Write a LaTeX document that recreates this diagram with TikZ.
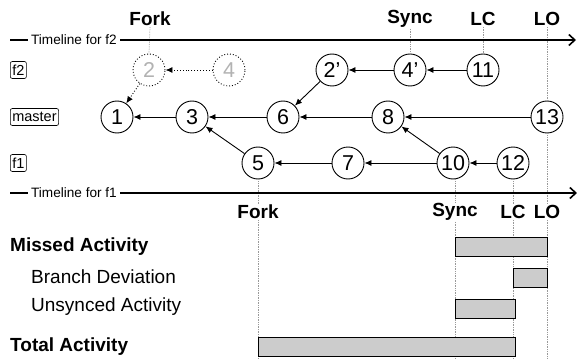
\documentclass[tikz,border=0pt]{standalone}
\usepackage{fontspec}
\setmainfont{Liberation Sans}
\usetikzlibrary{arrows.meta}
\begin{document}
\begin{tikzpicture}[x=1pt,y=-1pt,
  commit/.style={circle,draw,line width=0.9pt,minimum size=32pt,inner sep=0pt,font=\fontsize{21.5}{21.5}\selectfont},
  ghost/.style={commit,dotted,text=black!30},
  branch/.style={draw,rounded corners=2pt,inner xsep=2pt,inner ysep=0pt,minimum height=17pt,line width=0.6pt,font=\fontsize{14.5}{14.5}\selectfont},
  edge/.style={-{Latex[length=7pt,width=6pt]},line width=0.9pt},
  ghostedge/.style={edge,dotted},
  timeline/.style={-{Straight Barb[length=6pt,width=11pt,line width=1.6pt]},line width=1.8pt},
  tltext/.style={fill=white,inner xsep=3pt,inner ysep=1pt,font=\fontsize{13.6}{13.6}\selectfont},
  tmark/.style={font=\bfseries\fontsize{19}{19}\selectfont,inner sep=1pt},
  guide/.style={densely dotted,black!40,line width=0.7pt},
  bar/.style={draw,fill=black!20,line width=0.8pt},
  rowlabel/.style={anchor=west,inner sep=0pt,font=\fontsize{19}{19}\selectfont},
  rowbold/.style={rowlabel,font=\bfseries\fontsize{19}{19}\selectfont}
]
\useasboundingbox (0,0) rectangle (577,358);

% timelines
\coordinate (t2s) at (10,40); \coordinate (t2e) at (576,40);
\coordinate (t1s) at (10,193); \coordinate (t1e) at (577,193);

% top marks
\node[tmark] (forkT) at (150,19) {Fork};
\node[tmark] (syncT) at (410,19) {Sync};
\node[tmark] (lcT) at (483,19) {LC};
\node[tmark] (loT) at (547,19) {LO};

% commits
\node[ghost] (c2) at (149,70) {2};
\node[ghost] (c4) at (229,70) {4};
\node[commit] (c2p) at (332,70) {2’};
\node[commit] (c4p) at (410,70) {4’};
\node[commit] (c11) at (483,70) {11};
\node[commit] (c1) at (117,117) {1};
\node[commit] (c3) at (192,117) {3};
\node[commit] (c6) at (283,117) {6};
\node[commit] (c8) at (388,117) {8};
\node[commit] (c13) at (547,117) {13};
\node[commit] (c5) at (258,163) {5};
\node[commit] (c7) at (348,163) {7};
\node[commit] (c10) at (453,163) {10};
\node[commit] (c12) at (513,163) {12};

% bottom marks
\node[tmark] (forkB) at (258,212) {Fork};
\node[tmark] (syncB) at (455,212) {Sync};
\node[tmark] (lcB) at (513,212) {LC};
\node[tmark] (loB) at (547,212) {LO};

\coordinate (b5) at (258,358);
\coordinate (b10) at (455,358);
\coordinate (b12) at (513,358);
\coordinate (b13) at (547,358);

% guides
\draw[guide] (forkT.south) -- (c2.north);
\draw[guide] (syncT.south) -- (c4p.north);
\draw[guide] (lcT.south) -- (c11.north);
\draw[guide] (loT.south) -- (c13.north);
\draw[guide] (c5.south) -- (forkB.north);
\draw[guide] (forkB.south) -- (b5);
\draw[guide] (c10.south -| syncB) -- (syncB.north);
\draw[guide] (syncB.south) -- (b10);
\draw[guide] (c12.south) -- (lcB.north);
\draw[guide] (lcB.south) -- (b12);
\draw[guide] (c13.south) -- (loB.north);
\draw[guide] (loB.south) -- (b13);

% timelines drawn
\draw[timeline] (t2s) -- (t2e);
\node[tltext] (tl2) at (74,40) {Timeline for f2};
\draw[timeline] (t1s) -- (t1e);
\node[tltext] (tl1) at (74,193) {Timeline for f1};

% branch labels
\node[branch,anchor=west] (bf2) at (10,70) {f2};
\node[branch,anchor=west] (bmaster) at (10,117) {master};
\node[branch,anchor=west] (bf1) at (10,163) {f1};

% edges
\draw[ghostedge] (c4) -- (c2);
\draw[ghostedge] (c2) -- (c1);
\draw[edge] (c11) -- (c4p);
\draw[edge] (c4p) -- (c2p);
\draw[edge] (c2p) -- (c6);
\draw[edge] (c3) -- (c1);
\draw[edge] (c6) -- (c3);
\draw[edge] (c8) -- (c6);
\draw[edge] (c13) -- (c8);
\draw[edge] (c5) -- (c3);
\draw[edge] (c7) -- (c5);
\draw[edge] (c10) -- (c7);
\draw[edge] (c10) -- (c8);
\draw[edge] (c12) -- (c10);

% activity rows
\node[rowbold] (lmissed) at (10,247) {Missed Activity};
\node[rowlabel] (lbranch) at (31,277) {Branch Deviation};
\node[rowlabel] (lunsync) at (31,307) {Unsynced Activity};
\node[rowbold] (ltotal) at (10,347) {Total Activity};

\draw[bar] (455,237) rectangle (547,256);
\draw[bar] (513,268) rectangle (547,287);
\draw[bar] (455,299) rectangle (515,318);
\draw[bar] (258,337) rectangle (515,356);
\end{tikzpicture}
\end{document}
